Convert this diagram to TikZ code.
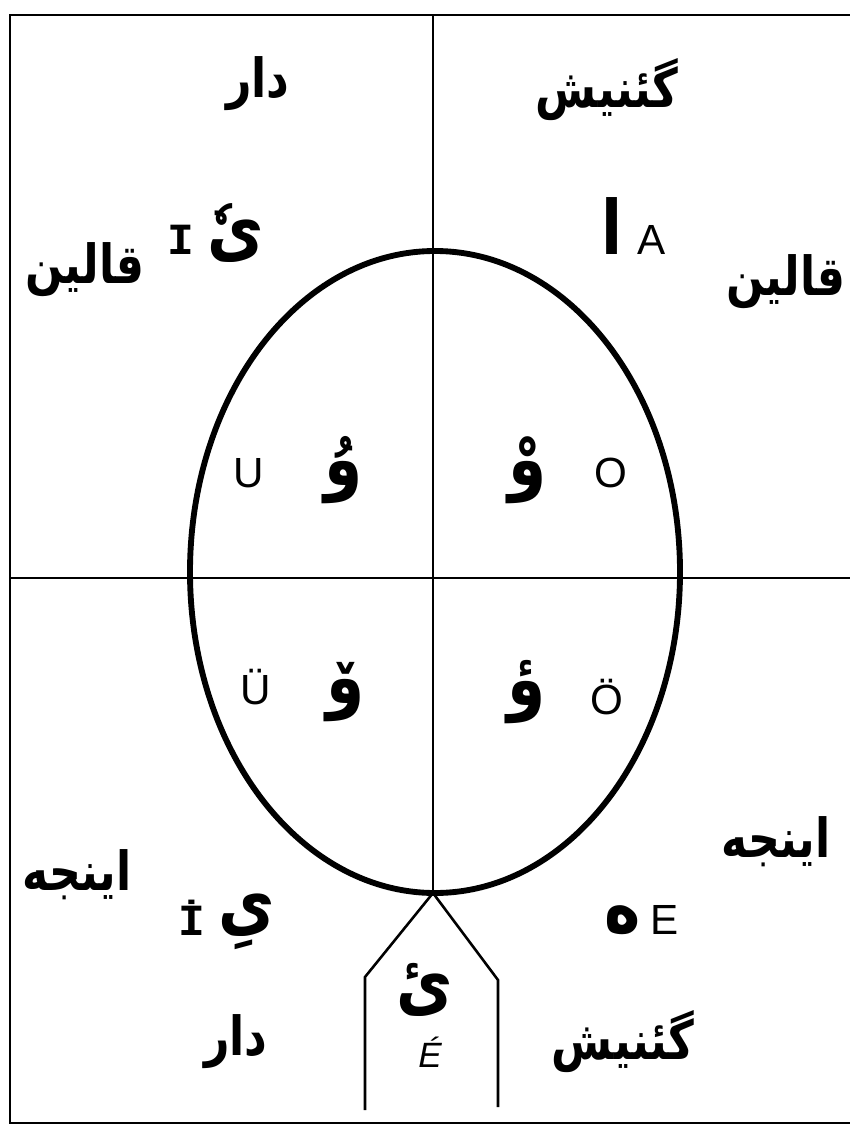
\documentclass[tikz,border=0pt]{standalone}
\usepackage{fontspec}
\setmainfont{Liberation Sans}
\newfontfamily\arabicfont[Script=Arabic, FakeStretch=0.82]{DejaVu Sans}
\newfontfamily\serifmono{Liberation Mono}
\TeXXeTstate=1

\tikzset{
  soz/.style={font=\arabicfont\bfseries\fontsize{46}{52}\selectfont, inner sep=0pt},
  harf/.style={font=\arabicfont\bfseries\fontsize{64}{70}\selectfont, inner sep=0pt},
  herf/.style={font=\fontsize{36}{40}\selectfont, inner sep=0pt},
  herfi/.style={font=\serifmono\bfseries\fontsize{38}{42}\selectfont, inner sep=0pt},
  xett/.style={line width=2.2pt},
  dayire/.style={line width=5pt}
}
\newcommand{\rtl}[1]{\beginR #1\endR}

\begin{document}
\begin{tikzpicture}[x=0.03cm, y=-0.03cm]
        \useasboundingbox (0,0) rectangle (850,1131);
        % frame and cross
        \draw[xett] (850,15) -- (10,15) -- (10,1123) -- (850,1123);
        \draw[xett] (10,578) -- (850,578);
        \coordinate (top) at (433,15);
        \coordinate (bottom) at (433,893);
        \draw[xett] (top) -- (bottom);
        \draw[dayire] (435,572) ellipse (245 and 321);
        % the foot below the circle
        \coordinate (sol1) at (365,977);
        \coordinate (sol2) at (365,1110);
        \coordinate (sag1) at (498,980);
        \coordinate (sag2) at (498,1107);
        \draw[xett] (sol2) -- (sol1) -- (bottom) -- (sag1) -- (sag2);
        % words
        \node[soz] (dar1) at (258,84) {\rtl{دار}};
        \node[soz] (genis1) at (607,90) {\rtl{گئنیش}};
        \node[soz] (qalin1) at (85,270) {\rtl{قالین}};
        \node[soz] (qalin2) at (786,282) {\rtl{قالین}};
        \node[soz] (ince1) at (77,875) {\rtl{اینجه}};
        \node[soz] (ince2) at (776,842) {\rtl{اینجه}};
        \node[soz] (dar2) at (236,1042) {\rtl{دار}};
        \node[soz] (genis2) at (623,1042) {\rtl{گئنیش}};
        % letters
        \node[harf] (y1) at (236,233) {\rtl{یٗ}};
        \node[herfi] (I) at (181,240) {I};
        \node[harf] (alif) at (612,226) {\rtl{ا}};
        \node[herf] (A) at (652,240) {A};
        \node[herf] (U) at (249,473) {U};
        \node[harf] (w1) at (344,470) {\rtl{وُ}};
        \node[harf] (w2) at (528,470) {\rtl{وْ}};
        \node[herf] (O) at (611,473) {O};
        \node[herf] (UU) at (256,687) {Ü};
        \node[harf] (w3) at (346,692) {\rtl{وٚ}};
        \node[harf] (w4) at (527,692) {\rtl{ؤ}};
        \node[herf] (OO) at (607,697) {Ö};
        \node[herfi] (II) at (192,918) {İ};
        \node[harf] (y2) at (247,922) {\rtl{یِ}};
        \node[harf] (he) at (623,920) {\rtl{ه}};
        \node[herf] (E) at (665,920) {E};
        \node[harf] (y3) at (425,990) {\rtl{ئ}};
        \node[herf, font=\itshape\fontsize{30}{34}\selectfont] (EE) at (430,1052) {É};
\end{tikzpicture}
\end{document}
